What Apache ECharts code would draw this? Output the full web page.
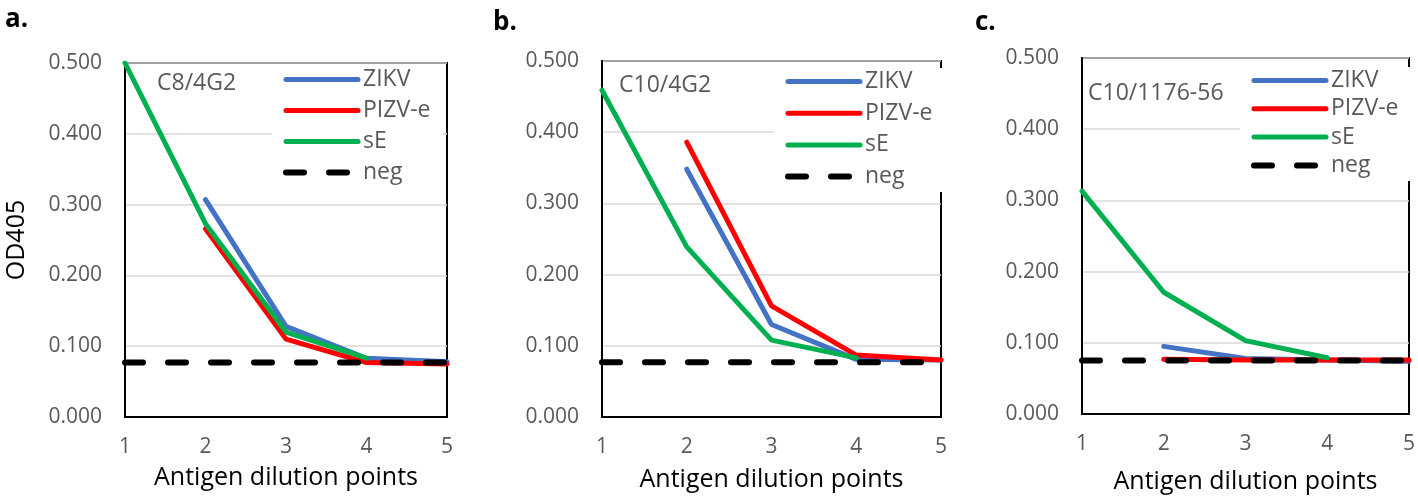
<!DOCTYPE html>
<html><head><meta charset="utf-8">
<script src="https://cdn.jsdelivr.net/npm/echarts@6/dist/echarts.min.js"></script>
<style>html,body{margin:0;padding:0;background:#fff}#c{width:1418px;height:499px}</style>
</head><body><div id="c"></div>
<script>
const categories = ['1','2','3','4','5'];
const yTicks = [0, 0.1, 0.2, 0.3, 0.4, 0.5];
const seriesNames = ['ZIKV','PIZV-e','sE','neg'];
const panelTitles = ['C8/4G2','C10/4G2','C10/1176-56'];
const panelLetters = ['a.','b.','c.'];

const a_ZIKV = [null, 0.307, 0.128, 0.083, 0.078];
const a_PIZV = [null, 0.266, 0.110, 0.077, 0.075];
const a_sE   = [0.500, 0.273, 0.120, 0.083, null];
const a_neg  = [0.077, 0.077, 0.077, 0.077, 0.077];

const b_ZIKV = [null, 0.348, 0.130, 0.081, 0.080];
const b_PIZV = [null, 0.386, 0.156, 0.087, 0.080];
const b_sE   = [0.459, 0.239, 0.108, 0.083, null];
const b_neg  = [0.077, 0.077, 0.077, 0.077, 0.077];

const c_ZIKV = [null, 0.095, 0.078, 0.076, 0.074];
const c_PIZV = [null, 0.077, 0.076, 0.076, 0.076];
const c_sE   = [0.313, 0.171, 0.103, 0.079, null];
const c_neg  = [0.075, 0.075, 0.075, 0.075, 0.075];

const panelData = [
  [a_ZIKV, a_PIZV, a_sE, a_neg],
  [b_ZIKV, b_PIZV, b_sE, b_neg],
  [c_ZIKV, c_PIZV, c_sE, c_neg]
];

const colors = ['#4472C4', '#FF0000', '#00B050', '#000000'];
const FONT = 'Open Sans';

const solidStyle = c => ({color: c, width: 5, type: 'solid', cap: 'round'});
const dashStyle = c => ({color: c, width: 6, type: [18, 25], cap: 'round'});

const grids = [
  {left: 125, top: 63, width: 322, height: 354},
  {left: 602, top: 61, width: 339, height: 356},
  {left: 1082, top: 58, width: 330, height: 357}
];
const legendPos = [
  {left: 272, top: 66, gap: 8},
  {left: 774, top: 68, gap: 8.7},
  {left: 1240, top: 67, gap: 5.3}
];
const titlePos = [[157, 88], [619, 90], [1088, 98]];
const letterPos = [[5, 25], [493, 28], [975, 28]];

const chart = echarts.init(document.getElementById('c'));
const option = {
  animation: false,
  backgroundColor: '#fff',
  grid: grids.map(g => Object.assign({show: true, borderColor: '#000', borderWidth: 2, backgroundColor: 'transparent'}, g)),
  xAxis: grids.map((g, i) => ({
    type: 'category', gridIndex: i, data: categories, boundaryGap: false,
    axisLine: {show: true, lineStyle: {color: '#000', width: 2}},
    axisTick: {show: false},
    axisLabel: {color: '#595959', fontSize: 21, fontFamily: FONT, margin: 20},
    splitLine: {show: false},
    name: 'Antigen dilution points', nameLocation: 'middle', nameGap: [48, 50, 55][i],
    nameTextStyle: {color: '#000', fontSize: 25, fontFamily: FONT}
  })),
  yAxis: grids.map((g, i) => ({
    type: 'value', gridIndex: i, min: yTicks[0], max: yTicks[yTicks.length - 1], interval: 0.1,
    axisLine: {show: true, lineStyle: {color: '#000', width: 2}},
    axisTick: {show: false},
    axisLabel: {color: '#595959', fontSize: 21, fontFamily: FONT, margin: 23, formatter: v => v.toFixed(3)},
    splitLine: {show: true, lineStyle: {color: '#D9D9D9', width: 1.5}},
    name: i === 0 ? 'OD405' : '', nameLocation: 'middle', nameRotate: 90, nameGap: 96,
    nameTextStyle: {color: '#000', fontSize: 25, fontFamily: FONT}
  })),
  legend: legendPos.map((p, i) => ({
    data: seriesNames.map((n, si) => ({
      name: n,
      itemStyle: {opacity: 0},
      lineStyle: si === 3 ? dashStyle(colors[si]) : solidStyle(colors[si])
    })),
    orient: 'vertical', left: p.left, top: p.top,
    backgroundColor: '#fff', padding: [2, 12, 4, 11],
    itemWidth: 72, itemHeight: 23, itemGap: p.gap,
    itemStyle: {opacity: 0},
    textStyle: {color: '#595959', fontSize: 23, fontFamily: FONT, lineHeight: 23},
    selectedMode: false
  })),
  series: [],
  graphic: []
};

panelData.forEach((arrs, pi) => {
  arrs.forEach((arr, si) => {
    option.series.push({
      type: 'line', name: seriesNames[si], xAxisIndex: pi, yAxisIndex: pi,
      data: arr, symbol: 'none', connectNulls: false, smooth: false,
      lineStyle: si === 3 ? dashStyle(colors[si]) : solidStyle(colors[si]),
      itemStyle: {color: colors[si]},
      z: 2 + si
    });
  });
  option.graphic.push({
    type: 'text', left: titlePos[pi][0], top: titlePos[pi][1] - 16, z: 10,
    style: {text: panelTitles[pi], fill: '#595959', fontSize: 23, fontFamily: FONT}
  });
  option.graphic.push({
    type: 'text', left: letterPos[pi][0], top: letterPos[pi][1] - 18, z: 10,
    style: {text: panelLetters[pi], fill: '#000', fontSize: 26, fontWeight: 'bold', fontFamily: FONT}
  });
});

chart.setOption(option);
</script></body></html>
